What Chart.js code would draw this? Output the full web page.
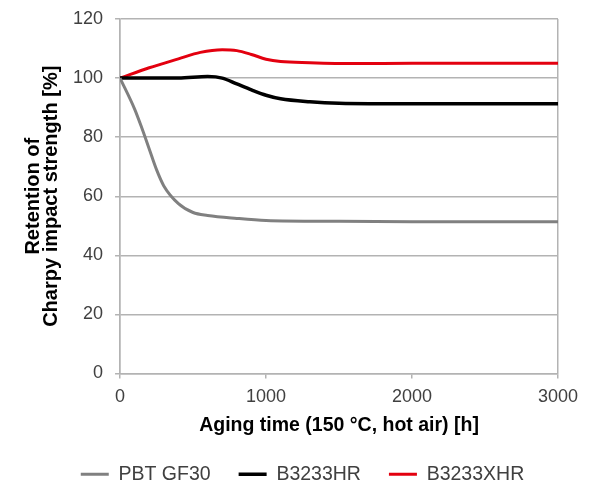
<!DOCTYPE html>
<html>
<head>
<meta charset="utf-8">
<script src="https://cdn.jsdelivr.net/npm/chart.js@4.4.1/dist/chart.umd.min.js"></script>
<style>
  html, body { margin: 0; padding: 0; background: #ffffff; }
  #wrap { width: 600px; height: 499px; }
</style>
</head>
<body>
<div id="wrap"><canvas id="c" width="600" height="499"></canvas></div>
<script>
// ---- data ----
const seriesNames = ["PBT GF30", "B3233HR", "B3233XHR"];

const pbtTime   = [0, 100, 150, 200, 250, 300, 400, 500, 600, 800, 1000, 1500, 2000, 3000];
const pbtValue  = [100, 89.5, 83, 76, 69, 63.5, 57.5, 54.5, 53.5, 52.5, 51.8, 51.5, 51.4, 51.4];

const hrTime    = [0, 200, 400, 600, 700, 800, 900, 1000, 1100, 1300, 1500, 2000, 3000];
const hrValue   = [100, 100, 100, 100.5, 100, 98, 96, 94.2, 93, 92, 91.5, 91.3, 91.3];

const xhrTime   = [0, 200, 400, 550, 700, 800, 900, 1000, 1100, 1300, 1600, 2000, 3000];
const xhrValue  = [100, 103.5, 106.5, 108.7, 109.6, 109.3, 108, 106.4, 105.6, 105.2, 104.9, 105, 105];

const xTicks = [0, 1000, 2000, 3000];
const yTicks = [0, 20, 40, 60, 80, 100, 120];

const xTitle = "Aging time (150 °C, hot air) [h]";
const yTitle = ["Retention of", "Charpy impact strength [%]"];

// ---- build ----
function pts(t, v) { return t.map((x, i) => ({ x: x, y: v[i] })); }

Chart.defaults.font.family = "'Liberation Sans', Arial, sans-serif";
const gridGray = "#b3b3b3";

new Chart(document.getElementById("c"), {
  type: "line",
  data: {
    datasets: [
      { label: seriesNames[0], data: pts(pbtTime, pbtValue), borderColor: "#808080", backgroundColor: "#808080", borderWidth: 3 },
      { label: seriesNames[1], data: pts(hrTime, hrValue), borderColor: "#000000", backgroundColor: "#000000", borderWidth: 3.5 },
      { label: seriesNames[2], data: pts(xhrTime, xhrValue), borderColor: "#e3000f", backgroundColor: "#e3000f", borderWidth: 3 }
    ]
  },
  options: {
    responsive: false,
    animation: false,
    devicePixelRatio: 1,
    elements: {
      point: { radius: 0, hoverRadius: 0, pointStyle: "line" },
      line: { cubicInterpolationMode: "monotone", fill: false }
    },
    layout: { padding: { left: 10, right: 5, top: 2, bottom: 5 } },
    plugins: {
      tooltip: { enabled: false },
      legend: {
        position: "bottom",
        labels: {
          usePointStyle: true,
          pointStyle: "line",
          pointStyleWidth: 28,
          color: "#404040",
          font: { size: 19.5 },
          padding: 28
        }
      }
    },
    scales: {
      x: {
        type: "linear",
        min: 0,
        max: 3000,
        afterBuildTicks: (s) => { s.ticks = xTicks.map(v => ({ value: v })); },
        afterFit: (s) => { s.paddingRight = 42; },
        ticks: { color: "#404040", font: { size: 18 }, padding: 8, maxRotation: 0, callback: (v) => String(v) },
        grid: {
          color: (ctx) => (ctx.tick && (ctx.tick.value === 0 || ctx.tick.value === 3000)) ? gridGray : "rgba(0,0,0,0)",
          tickColor: gridGray,
          tickLength: 5,
          lineWidth: 1.5
        },
        border: { color: gridGray, width: 1.5 },
        title: { display: true, text: xTitle, color: "#000", font: { size: 19.5, weight: "bold" }, padding: { top: -2, bottom: -1 } }
      },
      y: {
        min: 0,
        max: 120,
        afterBuildTicks: (s) => { s.ticks = yTicks.map(v => ({ value: v })); },
        afterFit: (s) => { s.paddingTop = 19; },
        ticks: { color: "#404040", font: { size: 18 }, padding: 12 },
        grid: { color: gridGray, tickColor: gridGray, tickLength: 5, lineWidth: 1.5 },
        border: { color: gridGray, width: 1.5 },
        title: { display: true, text: yTitle, color: "#000", font: { size: 20, weight: "bold", lineHeight: 0.875 }, padding: { top: 15, bottom: 1 } }
      }
    }
  }
});
</script>
</body>
</html>
